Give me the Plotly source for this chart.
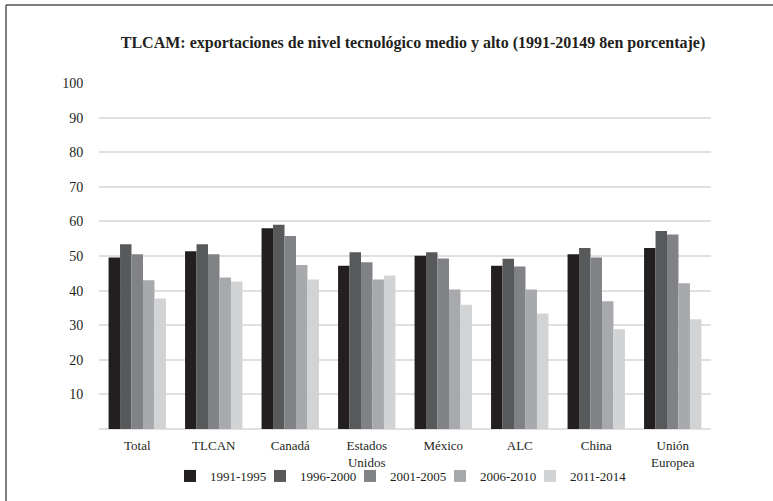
import plotly.graph_objects as go

categories = ["Total", "TLCAN", "Canadá", "Estados<br>Unidos", "México", "ALC", "China", "Unión<br>Europea"]
series_names = ["1991-1995", "1996-2000", "2001-2005", "2006-2010", "2011-2014"]
s1991_1995 = [49.6, 51.4, 58.0, 47.2, 50.1, 47.2, 50.5, 52.3]
s1996_2000 = [53.4, 53.4, 59.0, 51.1, 51.1, 49.2, 52.3, 57.2]
s2001_2005 = [50.5, 50.5, 55.8, 48.2, 49.3, 47.0, 49.6, 56.2]
s2006_2010 = [43.0, 43.8, 47.4, 43.2, 40.3, 40.3, 36.9, 42.1]
s2011_2014 = [37.7, 42.6, 43.2, 44.4, 35.9, 33.4, 28.8, 31.7]
series_values = [s1991_1995, s1996_2000, s2001_2005, s2006_2010, s2011_2014]
colors = ["#231f20", "#58595b", "#808285", "#a7a9ac", "#d1d3d4"]
y_ticks = [10, 20, 30, 40, 50, 60, 70, 80, 90, 100]
title_text = "TLCAM: exportaciones de nivel tecnológico medio y alto (1991-20149 8en porcentaje)"

W, H = 773, 501
ML, MR, MT, MB = 99, 62, 83, 72
PW, PH = W - ML - MR, H - MT - MB

def px_x(px):
    return (px - ML) / PW

def px_y(py):
    return (H - MB - py) / PH

font_family = "Liberation Serif"
txt = "#231f20"

fig = go.Figure()
leg_y = px_y(476)
leg_x0 = 170
leg_step = 90
legend_layout = {}
for i, (name, vals, col) in enumerate(zip(series_names, series_values, colors)):
    key = "legend" if i == 0 else f"legend{i + 1}"
    fig.add_trace(go.Bar(x=categories, y=vals, name=name, marker=dict(color=col, line=dict(width=0)),
                         legend=key))
    legend_layout[key] = dict(orientation="h", x=px_x(leg_x0 + i * leg_step), xanchor="left",
                              y=leg_y, yanchor="middle",
                              font=dict(size=13, color=txt, family=font_family), itemclick=False,
                              bgcolor="rgba(0,0,0,0)")

fig.update_layout(
    width=W, height=H,
    margin=dict(l=ML, r=MR, t=MT, b=MB, autoexpand=False),
    paper_bgcolor="white", plot_bgcolor="white",
    barmode="group", bargap=0.25, bargroupgap=0,
    font=dict(family=font_family, size=13, color=txt),
    title=dict(text="<b>" + title_text + "</b>", x=px_x(413), xref="paper", xanchor="center",
               y=1 - 42 / H, yanchor="middle", font=dict(size=16, color=txt, family=font_family)),
    showlegend=True,
    shapes=[
        dict(type="line", xref="paper", yref="paper", x0=px_x(6), x1=px_x(780), y0=px_y(5), y1=px_y(5),
             line=dict(color="#555555", width=1.5)),
        dict(type="line", xref="paper", yref="paper", x0=px_x(6), x1=px_x(6), y0=px_y(5), y1=px_y(510),
             line=dict(color="#555555", width=1.5)),
    ],
    **legend_layout,
)
fig.update_xaxes(showgrid=False, showline=False, ticks="outside", ticklen=4, tickcolor="rgba(0,0,0,0)",
                 tickfont=dict(size=13, color=txt, family=font_family), range=[-0.5, 7.5],
                 automargin=False)
fig.update_yaxes(range=[0, 100], tickvals=y_ticks, showgrid=True, gridcolor="#e0e0e0", gridwidth=1.5,
                 zeroline=True, zerolinecolor="#e0e0e0", zerolinewidth=1.5, showline=False,
                 ticks="outside", ticklen=12, tickcolor="rgba(0,0,0,0)",
                 tickfont=dict(size=14, color=txt, family=font_family), automargin=False)

fig.write_html("out.html", config={"displayModeBar": False},
               post_script="document.body.style.margin='0px';")
